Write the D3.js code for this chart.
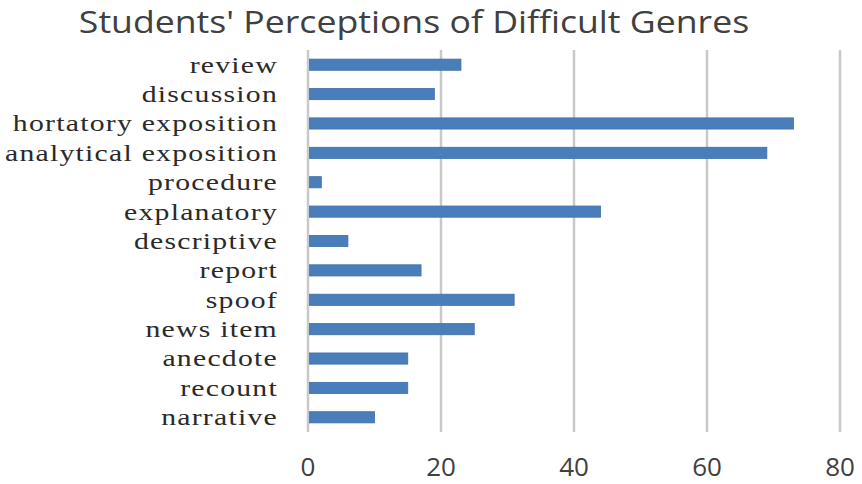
<!DOCTYPE html>
<html>
<head>
<meta charset="utf-8">
<script src="https://cdn.jsdelivr.net/npm/d3@7"></script>
<style>
  body { margin: 0; background: #fff; }
</style>
</head>
<body>
<script>
var genres = ["review", "discussion", "hortatory exposition", "analytical exposition", "procedure",
              "explanatory", "descriptive", "report", "spoof", "news item", "anecdote", "recount", "narrative"];
var counts = [23, 19, 73, 69, 2, 44, 6, 17, 31, 25, 15, 15, 10];
var xTicks = [0, 20, 40, 60, 80];
var title = "Students' Perceptions of Difficult Genres";

function init(){
    var width = 862, height = 484;
    var left = 308, right = 840, top = 50, bottom = 432;

    var svg = d3.select("body").append("svg")
        .attr("width", width)
        .attr("height", height);

    var x = d3.scaleLinear().domain([0, 80]).range([left, right]);
    var y = d3.scaleBand().domain(genres).range([top, bottom]).paddingInner(0.62).paddingOuter(0.31);

    // grid lines
    svg.selectAll(".grid")
        .data(xTicks)
        .enter().append("line")
        .attr("x1", function(d) { return x(d); })
        .attr("x2", function(d) { return x(d); })
        .attr("y1", top)
        .attr("y2", bottom)
        .attr("stroke", "#c9c9c9")
        .attr("stroke-width", 2.5);

    // bars
    svg.selectAll(".bar")
        .data(counts)
        .enter().append("rect")
        .attr("x", x(0) + 1.5)
        .attr("y", function(d, i) { return y(genres[i]); })
        .attr("width", function(d) { return x(d) - x(0) - 1.5; })
        .attr("height", y.bandwidth())
        .attr("fill", "#4a7ebb")
        .attr("stroke", "#3f6fa8")
        .attr("stroke-width", 0.8);

    // category labels (the source looks stretched sideways)
    svg.selectAll(".cat")
        .data(genres)
        .enter().append("text")
        .attr("transform", function(d) {
            return "translate(278," + (y(d) + y.bandwidth() / 2) + ") scale(1.24,1)";
        })
        .attr("dy", "0.33em")
        .attr("text-anchor", "end")
        .attr("font-family", "'Liberation Serif', 'DejaVu Serif', serif")
        .attr("font-size", 24)
        .attr("letter-spacing", 1)
        .attr("fill", "#2a2a2a")
        .text(function(d) { return d; });

    // x tick labels
    svg.selectAll(".tick")
        .data(xTicks)
        .enter().append("text")
        .attr("x", function(d) { return x(d); })
        .attr("y", 476)
        .attr("text-anchor", "middle")
        .attr("font-family", "'Open Sans', sans-serif")
        .attr("font-size", 26)
        .attr("fill", "#404040")
        .text(function(d) { return d; });

    svg.append("text")
        .attr("transform", "translate(414,33) scale(1.15,1)")
        .attr("text-anchor", "middle")
        .attr("font-family", "'Open Sans', sans-serif")
        .attr("font-size", 31)
        .attr("fill", "#404040")
        .text(title);
}

window.onload = init;
</script>
</body>
</html>
